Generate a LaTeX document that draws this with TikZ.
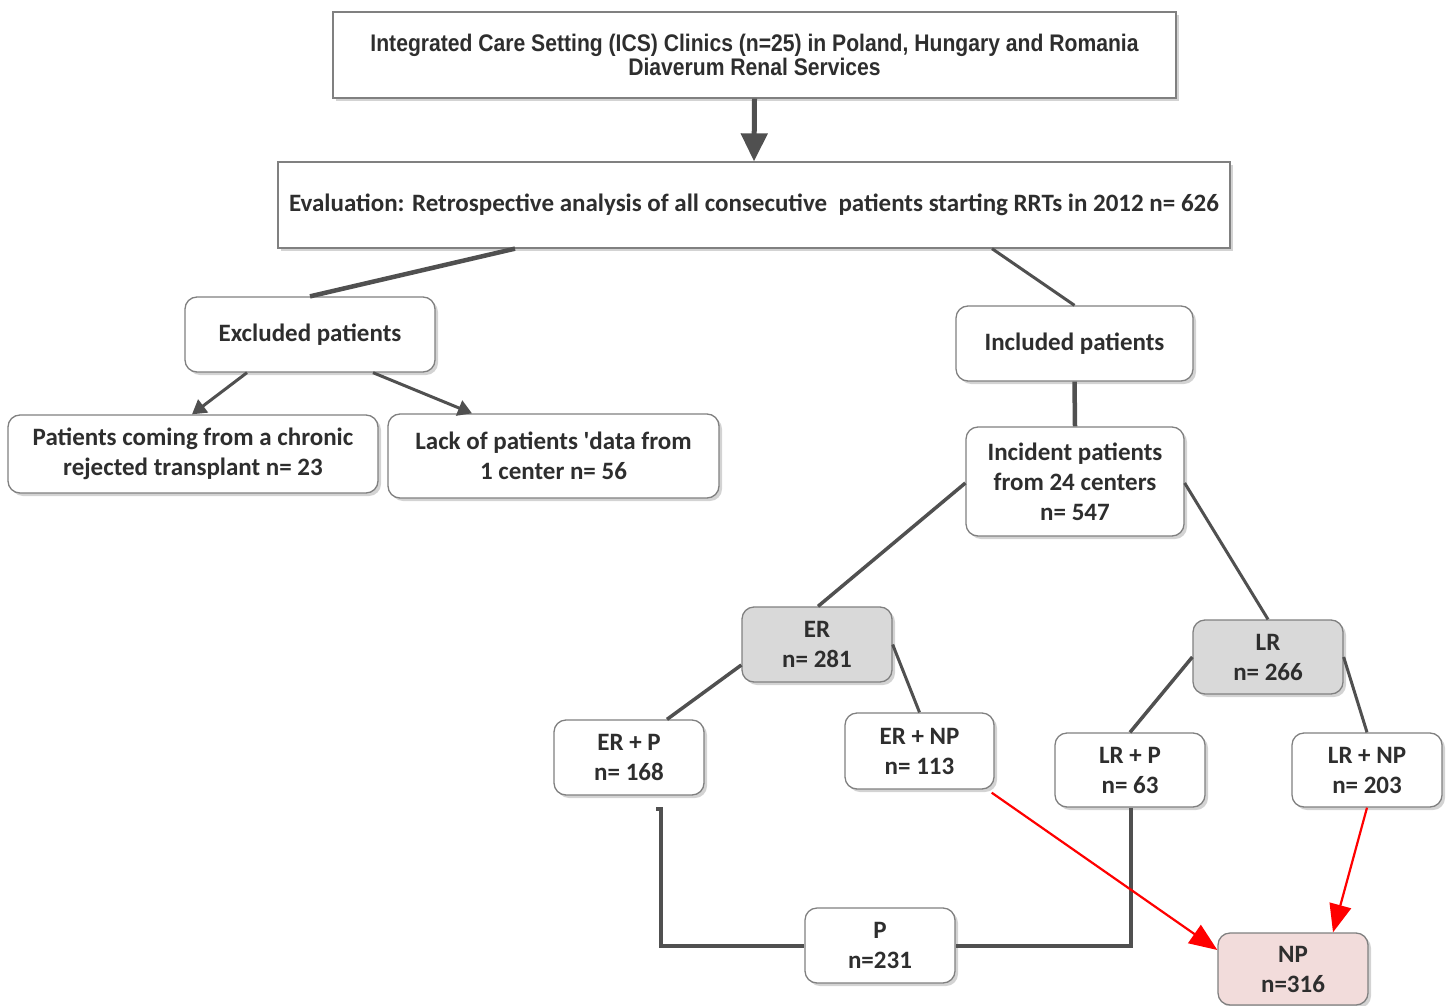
\documentclass[tikz,border=0pt]{standalone}
\usepackage{fontspec}
\setmainfont{Carlito}
\newfontfamily\narrowfont{Liberation Sans}[FakeStretch=0.88]
\usetikzlibrary{arrows.meta,shadows,calc}
\definecolor{bordergray}{HTML}{808080}
\definecolor{linegray}{HTML}{505050}
\definecolor{fillgray}{HTML}{D9D9D9}
\definecolor{fillpink}{HTML}{F2DCDB}
\begin{document}
\begin{tikzpicture}[x=1pt,y=-1pt,
  base/.style={draw=bordergray, line width=1.3pt, fill=white, align=center,
    inner sep=0pt, font=\bfseries\fontsize{25}{30}\selectfont, text=black!82,
    drop shadow={opacity=0.35, shadow xshift=3pt, shadow yshift=-3pt}},
  sharpbox/.style={base},
  rbox/.style={base, rounded corners=12pt},
  graybox/.style={rbox, fill=fillgray},
  pinkbox/.style={rbox, fill=fillpink},
  conn/.style={draw=linegray, line width=3.5pt},
  thinconn/.style={draw=linegray, line width=3pt},
  redarrow/.style={draw=red, line width=2.2pt, -{Triangle[length=28pt,width=22pt]}},
]
\useasboundingbox (0,0) rectangle (1448,1006);

\node[sharpbox, minimum width=843pt, minimum height=86pt,
  font=\narrowfont\bfseries\fontsize{24}{24}\selectfont] (top) at (754.5,55)
  {Integrated Care Setting (ICS) Clinics (n=25) in Poland, Hungary and Romania\\Diaverum Renal Services};
\node[sharpbox, minimum width=952pt, minimum height=86pt] (eval) at (754,205)
  {Evaluation: Retrospective analysis of all consecutive \ patients starting RRTs in 2012 n= 626};

\node[rbox, minimum width=250pt, minimum height=75pt] (excl) at (310,334.5) {Excluded patients};
\node[rbox, minimum width=237pt, minimum height=75pt] (incl) at (1074.5,343.5) {Included patients};
\node[rbox, minimum width=370pt, minimum height=78pt] (pc) at (193,454)
  {Patients coming from a chronic\\rejected transplant n= 23};
\node[rbox, minimum width=331pt, minimum height=84pt] (lack) at (553.5,456)
  {Lack of patients \textquotesingle data from\\1 center n= 56};
\node[rbox, minimum width=218pt, minimum height=109pt] (inc) at (1075,481.5)
  {Incident patients\\from 24 centers\\n= 547};

\node[graybox, minimum width=150pt, minimum height=75pt] (ER) at (817,644.5) {ER\\n= 281};
\node[graybox, minimum width=150pt, minimum height=74pt] (LR) at (1268,657) {LR\\n= 266};
\node[rbox, minimum width=150pt, minimum height=75pt] (ERP) at (629,757.5) {ER + P\\n= 168};
\node[rbox, minimum width=149pt, minimum height=76pt] (ERNP) at (919.5,751) {ER + NP\\n= 113};
\node[rbox, minimum width=150pt, minimum height=74pt] (LRP) at (1130,770) {LR + P\\n= 63};
\node[rbox, minimum width=150pt, minimum height=74pt] (LRNP) at (1367,770) {LR + NP\\n= 203};
\node[rbox, minimum width=150pt, minimum height=75pt] (P) at (880,945.5) {P\\n=231};
\node[pinkbox, minimum width=150pt, minimum height=72pt] (NP) at (1293,969) {NP\\n=316};

% connectors
\draw[draw=linegray, line width=5pt, -{Triangle[length=28pt,width=26pt]}] (top.south) -- (eval.north);
\draw[conn, line width=4.5pt] ([xshift=-239pt]eval.south) -- (excl.north);
\draw[thinconn] ([xshift=238pt]eval.south) -- (incl.north);
\draw[thinconn, -{Triangle[length=14pt,width=16pt]}] ([xshift=-63pt]excl.south) -- ([xshift=-1pt]pc.north);
\draw[thinconn, -{Triangle[length=14pt,width=16pt]}] ([xshift=63pt]excl.south) -- ([xshift=-81.5pt]lack.north);
\draw[conn, line width=4.5pt] (incl.south) -- (inc.north);
\draw[conn] ([yshift=-1.5pt]inc.west) -- ([xshift=1pt]ER.north);
\draw[thinconn] ([yshift=-1.5pt]inc.east) -- (LR.north);
\draw[conn] ([yshift=-20.5pt]ER.west) -- ([xshift=38pt]ERP.north);
\draw[thinconn] (ER.east) -- (ERNP.north);
\draw[conn] (LR.west) -- (LRP.north);
\draw[thinconn] (LR.east) -- (LRNP.north);
\draw[conn, line width=4pt] ([xshift=27pt,yshift=-13pt]ERP.south) -- ([xshift=32pt,yshift=-13pt]ERP.south) |- (P.west);
\draw[conn, line width=4pt] ([xshift=1pt]LRP.south) |- (P.east);
\draw[redarrow] ([xshift=-3pt,yshift=-3pt]ERNP.south east) -- ([yshift=19pt]NP.west);
\draw[redarrow] (LRNP.south) -- ([xshift=40pt]NP.north);
\end{tikzpicture}
\end{document}
